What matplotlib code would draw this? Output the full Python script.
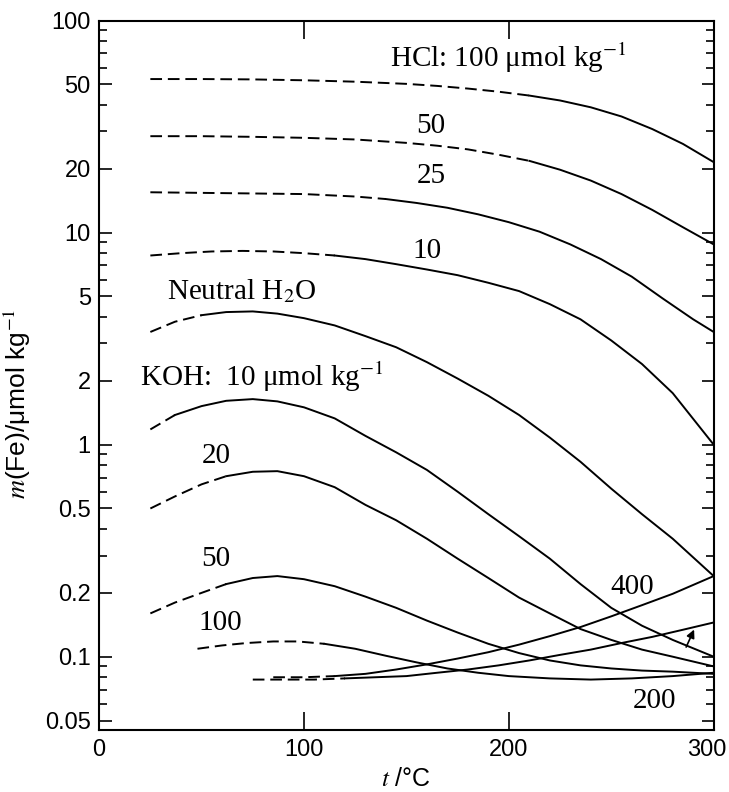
import numpy as np
import matplotlib.pyplot as plt
from matplotlib.ticker import FixedLocator, FixedFormatter, LogLocator, NullFormatter
from matplotlib.transforms import ScaledTranslation

plt.rcParams['mathtext.fontset'] = 'stix'

# temperatures (°C) and Fe molality (umol/kg)
t_hcl = [25, 50, 75, 100, 125, 150, 165, 180, 195, 210, 225, 240, 255, 270, 285, 300]
hcl100 = [53, 53, 52.8, 52.3, 51.5, 50.3, 49.2, 47.8, 46.2, 44.3, 42, 39, 35.3, 30.8, 26.2, 21.5]
hcl50 = [28.5, 28.5, 28.3, 28, 27.5, 26.5, 25.7, 24.7, 23.3, 21.8, 19.8, 17.6, 15.2, 12.8, 10.6, 8.8]

t_hcl25 = [25, 50, 75, 100, 125, 140, 155, 170, 185, 200, 215, 230, 245, 260, 275, 290, 300]
hcl25 = [15.5, 15.4, 15.3, 15.2, 14.8, 14.4, 13.8, 13.1, 12.2, 11.2, 10.1, 8.8, 7.5, 6.2, 4.9, 3.9, 3.4]

t_hcl10 = [25, 40, 55, 70, 85, 100, 115, 130, 145, 160, 175, 190, 205, 220, 235, 250, 265, 280, 300]
hcl10 = [7.8, 8.0, 8.15, 8.2, 8.15, 8.0, 7.8, 7.5, 7.1, 6.7, 6.3, 5.8, 5.3, 4.6, 3.9, 3.1, 2.4, 1.75, 1.0]

t_low = [25, 37, 50, 62, 75, 87, 100, 115, 130, 145, 160, 175, 190, 205, 220, 235, 250, 265, 280, 300]
neutral = [3.4, 3.8, 4.08, 4.22, 4.25, 4.15, 3.95, 3.65, 3.25, 2.88, 2.45, 2.05, 1.7, 1.38, 1.08,
           0.83, 0.62, 0.47, 0.36, 0.24]
koh10 = [1.18, 1.38, 1.52, 1.61, 1.64, 1.6, 1.5, 1.33, 1.1, 0.92, 0.76, 0.6, 0.47, 0.37, 0.29,
         0.22, 0.17, 0.14, 0.12, 0.1]
koh20 = [0.5, 0.57, 0.65, 0.71, 0.745, 0.75, 0.71, 0.63, 0.52, 0.44, 0.36, 0.29, 0.235, 0.19, 0.16,
         0.135, 0.12, 0.108, 0.1, 0.09]
koh50 = [0.16, 0.18, 0.2, 0.22, 0.235, 0.24, 0.232, 0.215, 0.192, 0.17, 0.148, 0.13, 0.115, 0.104,
         0.096, 0.091, 0.088, 0.086, 0.085, 0.083]

t_koh100 = [48, 60, 72, 85, 97, 110, 125, 140, 155, 170, 185, 200, 220, 240, 260, 280, 300]
koh100 = [0.109, 0.113, 0.116, 0.118, 0.118, 0.115, 0.109, 0.101, 0.094, 0.088, 0.084, 0.081,
          0.079, 0.078, 0.079, 0.081, 0.084]

t_koh200 = [75, 90, 105, 120, 135, 150, 165, 180, 195, 210, 225, 240, 255, 270, 285, 300]
koh200 = [0.078, 0.078, 0.078, 0.079, 0.08, 0.081, 0.084, 0.087, 0.091, 0.096, 0.102, 0.108,
          0.116, 0.124, 0.134, 0.145]

t_koh400 = [85, 100, 115, 130, 145, 160, 175, 190, 205, 220, 235, 250, 265, 280, 300]
koh400 = [0.08, 0.08, 0.081, 0.083, 0.087, 0.092, 0.098, 0.105, 0.114, 0.125, 0.138, 0.155,
          0.175, 0.198, 0.24]

yticks = [0.05, 0.1, 0.2, 0.5, 1, 2, 5, 10, 20, 50, 100]
ylabels = ['0.05', '0.1', '0.2', '0.5', '1', '2', '5', '10', '20', '50', '100']
xticks = [0, 100, 200, 300]

serif = ['Liberation Serif', 'DejaVu Serif']
narrow = ['Liberation Sans Narrow', 'Liberation Sans', 'DejaVu Sans']

fig = plt.figure(figsize=(7.29, 7.92), dpi=100)
ax = fig.add_axes([0.136, 0.078, 0.843, 0.896])


def draw(t, m, n_dash):
    # first n_dash points dashed (extrapolated part), rest solid
    ax.plot(t[:n_dash], m[:n_dash], color='k', lw=1.4, ls=(0, (6, 3)))
    ax.plot(t[n_dash - 1:], m[n_dash - 1:], color='k', lw=1.4)


draw(t_hcl, hcl100, 10)
draw(t_hcl, hcl50, 10)
draw(t_hcl25, hcl25, 6)
draw(t_hcl10, hcl10, 7)
draw(t_low, neutral, 3)
draw(t_low, koh10, 2)
draw(t_low, koh20, 4)
draw(t_low, koh50, 4)
draw(t_koh100, koh100, 6)
draw(t_koh200, koh200, 4)
draw(t_koh400, koh400, 3)

# small arrow pointing at the 200 curve
ax.annotate('', xy=(291, 0.138), xytext=(286, 0.108),
            arrowprops=dict(arrowstyle='-|>', color='k', lw=1.2, mutation_scale=12))

ax.set_yscale('log')
ax.set_xlim(0, 300)
ax.set_ylim(0.045, 100)

ax.yaxis.set_major_locator(FixedLocator(yticks))
ax.yaxis.set_major_formatter(FixedFormatter(ylabels))
ax.yaxis.set_minor_locator(LogLocator(base=10, subs=np.arange(2, 10)))
ax.yaxis.set_minor_formatter(NullFormatter())
ax.set_xticks(xticks)
ax.set_xticklabels([str(v) for v in xticks])

ax.tick_params(axis='both', which='both', direction='in', top=True, right=True, width=1.2)
ax.tick_params(axis='y', which='major', length=9, pad=6)
ax.tick_params(axis='y', which='minor', length=6)
ax.tick_params(axis='x', which='major', length=13, pad=6)
for lab in ax.get_xticklabels() + ax.get_yticklabels():
    lab.set_family(narrow)
    lab.set_fontsize(17)
# keep the last x label inside the image
last = ax.get_xticklabels()[-1]
last.set_transform(last.get_transform() + ScaledTranslation(-5 / 72, 0, fig.dpi_scale_trans))
for sp in ax.spines.values():
    sp.set_linewidth(1.5)

ax.set_xlabel(r'$t$ /°C', fontsize=18, family=narrow)
ax.xaxis.set_label_coords(0.5, -0.052)
ax.set_ylabel(r'$m$(Fe)/μmol kg$^{-1}$', fontsize=19, family=narrow)
ax.yaxis.set_label_coords(-0.108, 0.46)

# curve labels
fs = 21
ax.text(142, 67, 'HCl: 100 μmol kg$^{-1}$', fontsize=fs, family=serif, va='center')
ax.text(162, 32, '50', fontsize=fs, family=serif, ha='center', va='center')
ax.text(162, 18.4, '25', fontsize=fs, family=serif, ha='center', va='center')
ax.text(160, 8.2, '10', fontsize=fs, family=serif, ha='center', va='center')
ax.text(33, 5.3, 'Neutral H$_2$O', fontsize=fs, family=serif, va='center')
ax.text(20, 2.1, 'KOH:  10 μmol kg$^{-1}$', fontsize=fs, family=serif, va='center')
ax.text(57, 0.88, '20', fontsize=fs, family=serif, ha='center', va='center')
ax.text(57, 0.29, '50', fontsize=fs, family=serif, ha='center', va='center')
ax.text(59, 0.144, '100', fontsize=fs, family=serif, ha='center', va='center')
ax.text(260, 0.214, '400', fontsize=fs, family=serif, ha='center', va='center')
ax.text(271, 0.062, '200', fontsize=fs, family=serif, ha='center', va='center')

fig.savefig('out.png', dpi=100)
